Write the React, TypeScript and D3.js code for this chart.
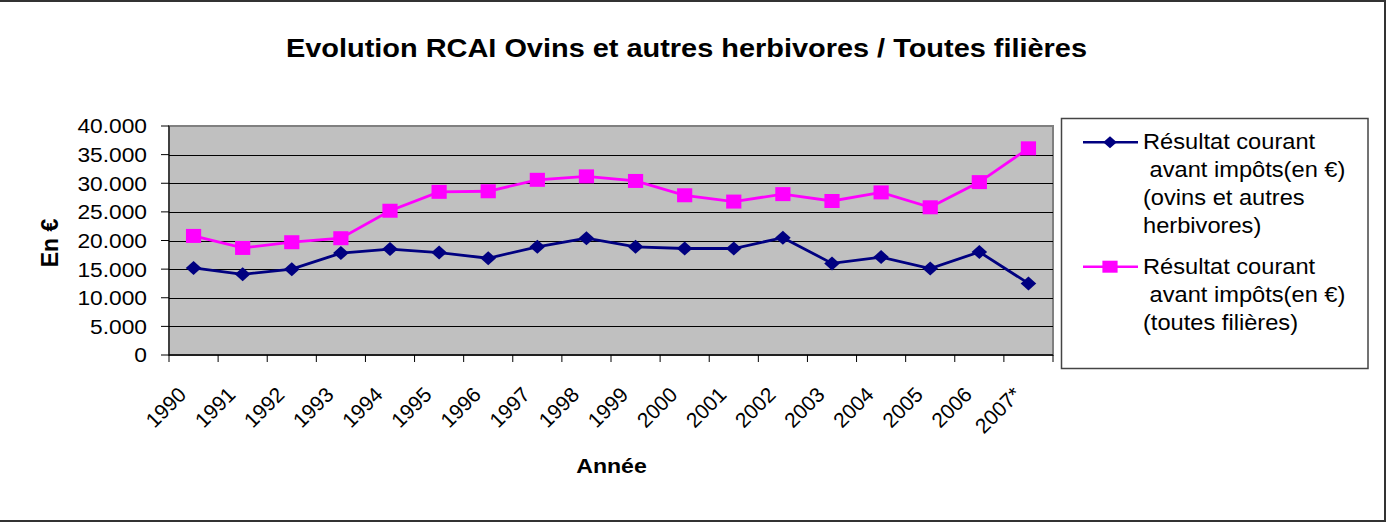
import * as d3 from "d3";
import React from "react";

const W = 1393;
const H = 525;

// plot area
const plot = { left: 169, right: 1053, top: 126, bottom: 355 };

const years = [
  "1990", "1991", "1992", "1993", "1994", "1995", "1996", "1997", "1998",
  "1999", "2000", "2001", "2002", "2003", "2004", "2005", "2006", "2007*",
];

// Résultat courant avant impôts (ovins et autres herbivores)
const ovins = [
  15200, 14100, 15000, 17800, 18500, 17900, 16900, 18900, 20400,
  18900, 18600, 18600, 20500, 16000, 17100, 15100, 18000, 12500,
];

// Résultat courant avant impôts (toutes filières)
const toutes = [
  20800, 18700, 19700, 20400, 25200, 28500, 28600, 30600, 31200,
  30400, 27900, 26800, 28100, 26900, 28400, 25800, 30200, 36100,
];

const yTicks = [0, 5000, 10000, 15000, 20000, 25000, 30000, 35000, 40000];

const legendLines1 = ["Résultat courant", " avant impôts(en €)", "(ovins et autres", "herbivores)"];
const legendLines2 = ["Résultat courant", " avant impôts(en €)", "(toutes filières)"];

const NAVY = "#000080";
const PINK = "#ff00ff";
const FONT = "Arial, 'Liberation Sans', sans-serif";

// the original is a bit stretched sideways, so text is scaled on x
function T({ x, y, size, bold = false, anchor = "start", children }: any) {
  return (
    <text
      transform={`translate(${x},${y}) scale(1.1,1)`}
      fontSize={size}
      fontWeight={bold ? "bold" : "normal"}
      textAnchor={anchor}
      fontFamily={FONT}
      fill="#000"
      style={{ whiteSpace: "pre" }}
    >
      {children}
    </text>
  );
}

const diamond = "M0,-7 L7.8,0 L0,7 L-7.8,0Z";
const square = "M-7.6,-7 H7.6 V7 H-7.6Z";
const legDiamond = "M0,-6 L6.8,0 L0,6 L-6.8,0Z";
const legSquare = "M-7.6,-6 H7.6 V6 H-7.6Z";

export default function App() {
  const x = d3.scaleBand<string>().domain(years).range([plot.left, plot.right]);
  const bw = x.bandwidth();
  const cx = (i: number) => (x(years[i]) as number) + bw / 2;
  const y = d3.scaleLinear().domain([0, 40000]).range([plot.bottom, plot.top]);

  const line = d3
    .line<number>()
    .x((_, i) => cx(i))
    .y((d) => y(d));

  const fmt = (v: number) => (v === 0 ? "0" : d3.format(",")(v).replace(",", "."));

  const boundaries = years.map((c) => x(c) as number).concat([plot.right]);

  return (
    <svg
      width={W}
      height={H}
      style={{ position: "absolute", left: 0, top: 0, display: "block", background: "#fff" }}
    >
      <rect x={-2} y={1} width={1387} height={520} fill="#fff" stroke="#333" strokeWidth={2} />

      <T x={686.5} y={57} size={26.3} bold anchor="middle">
        Evolution RCAI Ovins et autres herbivores / Toutes filières
      </T>

      {/* plot area */}
      <rect
        x={plot.left}
        y={plot.top}
        width={plot.right - plot.left}
        height={plot.bottom - plot.top}
        fill="#c0c0c0"
        stroke="#808080"
        strokeWidth={2}
      />
      {yTicks.slice(1, -1).map((t) => (
        <line key={t} x1={plot.left} x2={plot.right} y1={Math.round(y(t)) + 0.5} y2={Math.round(y(t)) + 0.5} stroke="#000" strokeWidth={1} />
      ))}
      <line x1={plot.left} x2={plot.left} y1={plot.top} y2={plot.bottom} stroke="#000" strokeWidth={1} />
      <line x1={plot.left} x2={plot.right} y1={plot.bottom} y2={plot.bottom} stroke="#000" strokeWidth={1.5} />

      {/* y axis */}
      {yTicks.map((t) => (
        <g key={t}>
          <line x1={plot.left - 8} x2={plot.left} y1={y(t)} y2={y(t)} stroke="#000" />
          <T x={147} y={y(t) + 7.4} size={20.7} anchor="end">
            {fmt(t)}
          </T>
        </g>
      ))}
      <text
        transform="translate(58,243) rotate(-90)"
        fontSize={23}
        fontWeight="bold"
        textAnchor="middle"
        fontFamily={FONT}
      >
        En €
      </text>

      {/* x axis */}
      {boundaries.map((b, i) => (
        <line key={i} x1={b} x2={b} y1={plot.bottom} y2={plot.bottom + 7} stroke="#000" />
      ))}
      {years.map((c, i) => (
        <text
          key={c}
          transform={`translate(${cx(i) - 6},${396}) rotate(-45)`}
          fontSize={21}
          textAnchor="end"
          fontFamily={FONT}
        >
          {c}
        </text>
      ))}
      <T x={611.5} y={473} size={21} bold anchor="middle">
        Année
      </T>

      {/* series */}
      <path d={line(ovins) as string} fill="none" stroke={NAVY} strokeWidth={2.8} />
      {ovins.map((v, i) => (
        <path key={i} d={diamond} transform={`translate(${cx(i)},${y(v)})`} fill={NAVY} />
      ))}
      <path d={line(toutes) as string} fill="none" stroke={PINK} strokeWidth={2.8} />
      {toutes.map((v, i) => (
        <path key={i} d={square} transform={`translate(${cx(i)},${y(v)})`} fill={PINK} />
      ))}

      {/* legend */}
      <rect x={1061.5} y={118.5} width={306.5} height={250} fill="#fff" stroke="#444" strokeWidth={1.5} />
      <line x1={1083} x2={1138} y1={142.3} y2={142.3} stroke={NAVY} strokeWidth={2.5} />
      <path d={legDiamond} transform="translate(1110,142.3)" fill={NAVY} />
      {legendLines1.map((s, i) => (
        <T key={i} x={1143} y={149.3 + i * 28} size={21.5}>
          {s}
        </T>
      ))}
      <line x1={1083} x2={1138} y1={266.7} y2={266.7} stroke={PINK} strokeWidth={2.5} />
      <path d={legSquare} transform="translate(1110,266.7)" fill={PINK} />
      {legendLines2.map((s, i) => (
        <T key={i} x={1143} y={274.3 + i * 28} size={21.5}>
          {s}
        </T>
      ))}
    </svg>
  );
}
